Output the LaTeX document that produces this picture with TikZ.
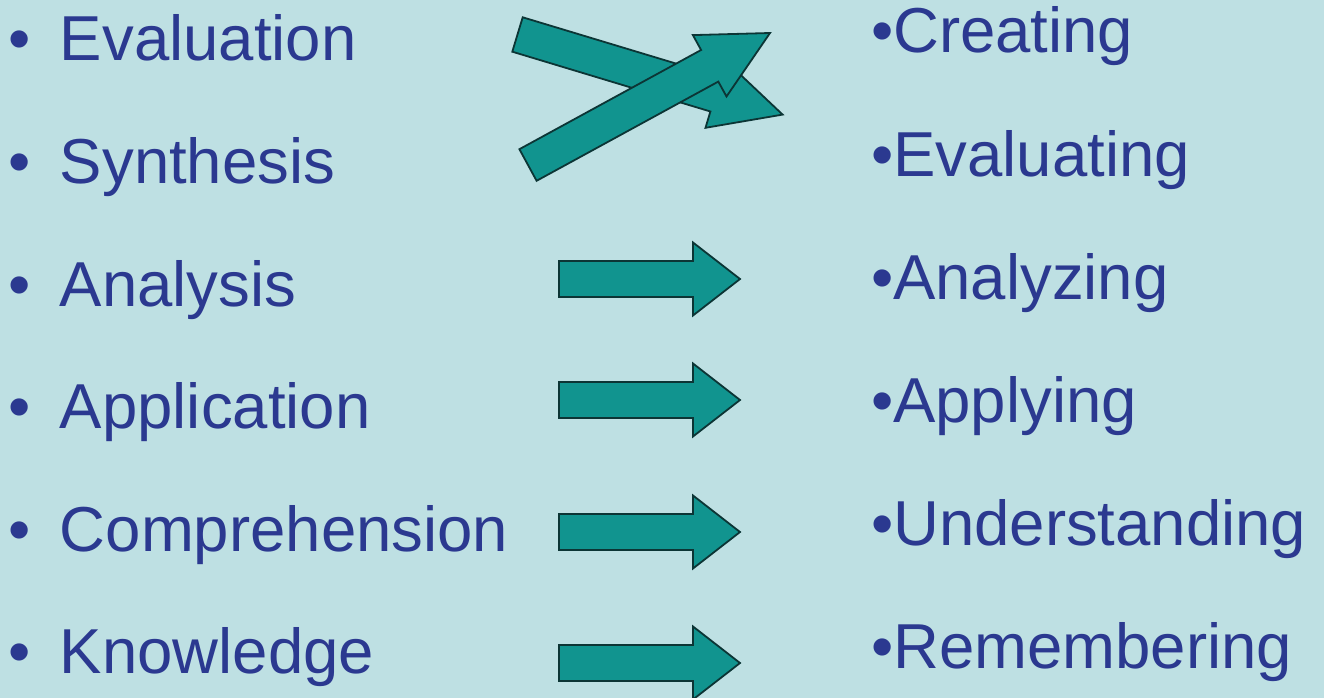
\documentclass[tikz,border=0pt]{standalone}
\usepackage{fontspec}
\setmainfont{Liberation Sans}
\definecolor{bg}{HTML}{BEE0E3}
\definecolor{txt}{HTML}{2B3990}
\definecolor{arrowfill}{HTML}{11948F}
\definecolor{arrowline}{HTML}{0C3535}
\begin{document}
\begin{tikzpicture}[x=1pt,y=-1pt,
  lbl/.style={anchor=base west, inner sep=0pt, outer sep=0pt, text=txt,
              font=\fontsize{63.5}{76}\selectfont},
  fatarrow/.style={fill=arrowfill, draw=arrowline, line width=1.8pt, line join=miter}]
\fill[bg] (0,0) rectangle (1324,698);
\useasboundingbox (0,0) rectangle (1324,698);

% left column
\node[lbl] (l1) at (8.5,61)  {\makebox[51.5pt][l]{•}Evaluation};
\node[lbl] (l2) at (8.5,183) {\makebox[51.5pt][l]{•}Synthesis};
\node[lbl] (l3) at (8.5,306) {\makebox[51.5pt][l]{•}Analysis};
\node[lbl] (l4) at (8.5,428) {\makebox[51.5pt][l]{•}Application};
\node[lbl] (l5) at (8.5,551) {\makebox[51.5pt][l]{•}Comprehension};
\node[lbl] (l6) at (8.5,673) {\makebox[51.5pt][l]{•}Knowledge};

% right column
\node[lbl] (r1) at (871,53)  {•Creating};
\node[lbl] (r2) at (871,176) {•Evaluating};
\node[lbl] (r3) at (871,299) {•Analyzing};
\node[lbl] (r4) at (871,422) {•Applying};
\node[lbl] (r5) at (871,545) {•Understanding};
\node[lbl] (r6) at (871,668) {•Remembering};

% crossing arrows
\draw[fatarrow] (522.7,17.3) -- (720.8,77.1) -- (725.7,60.8) -- (782.6,114.6)
  -- (705.5,127.8) -- (710.4,111.5) -- (512.3,51.7) -- cycle;
\draw[fatarrow] (519.4,149.2) -- (701.1,50.0) -- (692.9,35.1) -- (770,33)
  -- (726.5,96.5) -- (718.3,81.6) -- (536.6,180.8) -- cycle;

% straight arrows
\foreach \yc in {279,400,532,663} {
  \draw[fatarrow] (559,\yc-18) -- (693,\yc-18) -- (693,\yc-36.5) -- (740,\yc)
    -- (693,\yc+36.5) -- (693,\yc+18) -- (559,\yc+18) -- cycle;
}
\end{tikzpicture}
\end{document}
